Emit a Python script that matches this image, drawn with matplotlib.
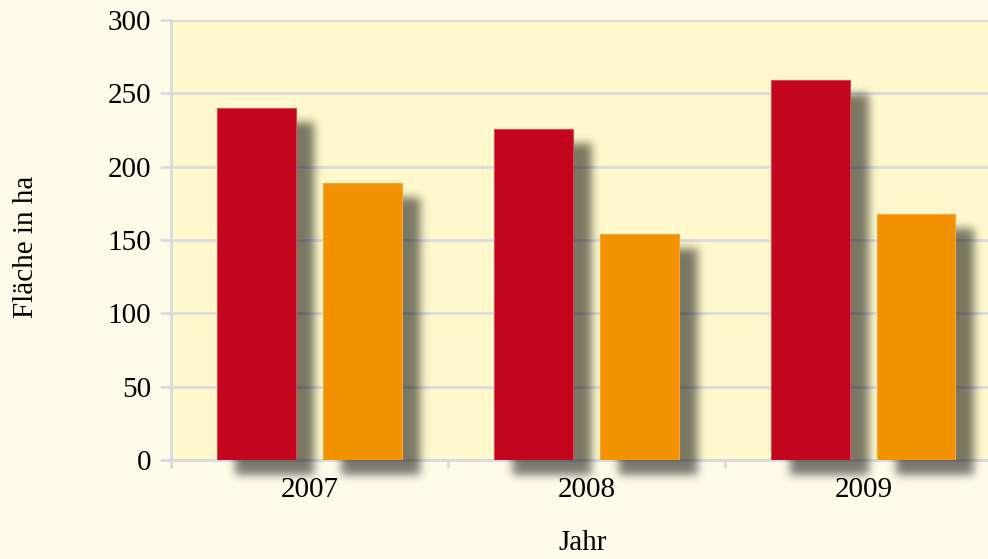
import numpy as np
import matplotlib.pyplot as plt

years = ["2007", "2008", "2009"]
red_values = [240, 226, 259]
orange_values = [189, 154, 168]

RED = "#c1061d"
ORANGE = "#f39200"
FIG_BG = "#fefce9"
AX_BG = "#fef8cc"
GRID = "#d9dae0"

plt.rcParams["font.family"] = ["Liberation Serif", "DejaVu Serif"]

fig = plt.figure(figsize=(9.88, 5.59), dpi=100, facecolor=FIG_BG)
ax = fig.add_axes([171 / 988, 1 - 460 / 559, 817 / 988, 440 / 559], facecolor=AX_BG)

xlim = (-0.5, 2.45)
ylim = (0, 300)

# pixels per data unit, used for the shadow image
px_x = 817 / (xlim[1] - xlim[0])
px_y = 440 / (ylim[1] - ylim[0])

x = np.arange(len(years))
width = 0.285
offset = 0.19


# gaussian blur along both axes
def blur(img, sigma):
    r = int(3 * sigma)
    k = np.exp(-0.5 * (np.arange(-r, r + 1) / sigma) ** 2)
    k /= k.sum()
    img = np.apply_along_axis(lambda v: np.convolve(v, k, mode="same"), 0, img)
    img = np.apply_along_axis(lambda v: np.convolve(v, k, mode="same"), 1, img)
    return img


# soft drop shadow under all bars as one rgba image
def draw_shadows(bars, dx=18, dy=15, sigma=4.5, strength=0.52):
    x0, x1 = xlim[0], xlim[1] + 40 / px_x
    y0, y1 = -40 / px_y, ylim[1]
    nx = int(round((x1 - x0) * px_x))
    ny = int(round((y1 - y0) * px_y))
    xs = x0 + (np.arange(nx) + 0.5) / px_x
    ys = y1 - (np.arange(ny) + 0.5) / px_y
    mask = np.zeros((ny, nx))
    for left, w, h in bars:
        sx = (xs >= left + dx / px_x) & (xs <= left + w + dx / px_x)
        sy = (ys >= -dy / px_y) & (ys <= h - dy / px_y)
        mask[np.ix_(sy, sx)] = 1.0
    mask = blur(mask, sigma)
    rgba = np.zeros((ny, nx, 4))
    rgba[..., 3] = mask * strength
    ax.imshow(rgba, extent=(x0, x1, y0, y1), aspect="auto",
              interpolation="bilinear", clip_on=False, zorder=1)


bars = []
for xi, r, o in zip(x, red_values, orange_values):
    bars.append((xi - offset - width / 2, width, r))
    bars.append((xi + offset - width / 2, width, o))
draw_shadows(bars)
ax.set_xlim(*xlim)
ax.set_ylim(*ylim)

ax.bar(x - offset, red_values, width, color=RED, edgecolor="#d64a57",
       linewidth=0.8, zorder=3)
ax.bar(x + offset, orange_values, width, color=ORANGE, edgecolor="#f5a63a",
       linewidth=0.8, zorder=3)

# grid sits under the translucent shadow
ax.set_axisbelow(True)
ax.yaxis.grid(True, color=GRID, linewidth=2)

ax.set_yticks(range(0, 301, 50))
ax.set_xticks(x)
ax.set_xticklabels(years)
ax.set_xticks([-0.5, 0.5, 1.5], minor=True)

ax.tick_params(axis="y", direction="out", length=8, width=2, color=GRID,
               labelsize=21, pad=6)
ax.tick_params(axis="x", which="major", length=0, labelsize=21, pad=12)
ax.tick_params(axis="x", which="minor", direction="out", length=6, width=2, color=GRID)

for side in ["top", "right"]:
    ax.spines[side].set_visible(False)
for side in ["left", "bottom"]:
    ax.spines[side].set_color(GRID)
    ax.spines[side].set_linewidth(2)
    ax.spines[side].set_zorder(0.6)

fig.text(583 / 988, 1 - 543 / 559, "Jahr", ha="center", va="center", fontsize=21)
fig.text(26 / 988, 1 - 247 / 559, "Fläche in ha", ha="center", va="center",
         rotation=90, fontsize=21)

fig.savefig("out.png", dpi=100, facecolor=FIG_BG)
